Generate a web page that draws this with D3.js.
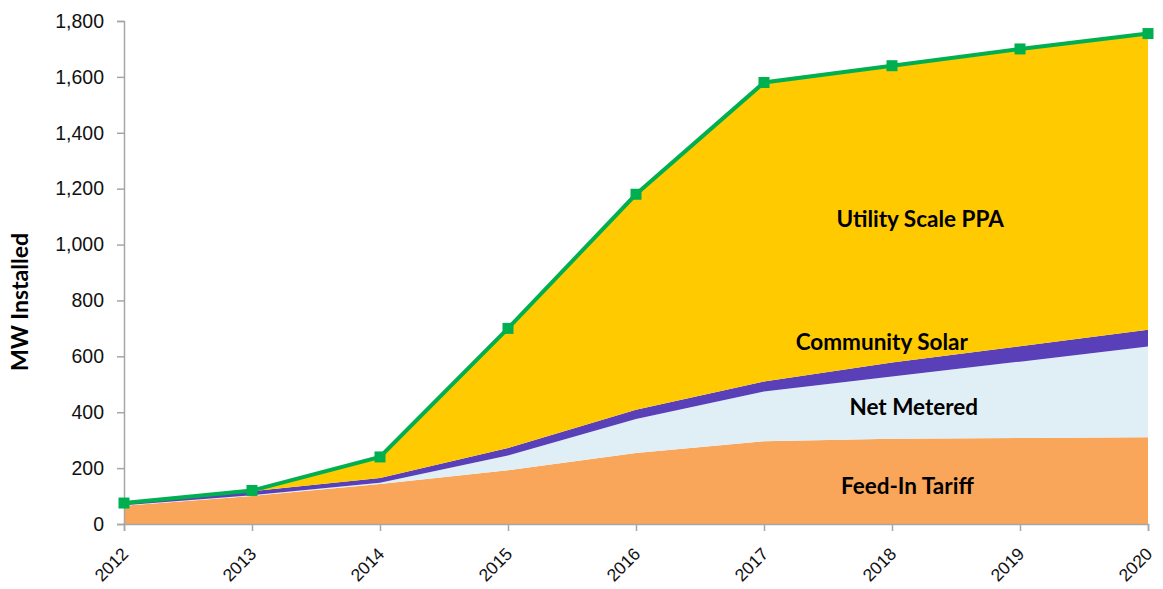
<!DOCTYPE html>
<html>
<head>
<meta charset="utf-8">
<script src="https://cdn.jsdelivr.net/npm/d3@7"></script>
<style>
  body { margin: 0; background: #fff; }
  svg { display: block; font-family: Lato, "Open Sans", sans-serif; }
</style>
</head>
<body>
<div id="chart"></div>
<script>
// Data (MW installed, cumulative)
const years = [2012, 2013, 2014, 2015, 2016, 2017, 2018, 2019, 2020];
const feedInTariff    = [65, 100, 143, 192, 254, 296, 305, 308, 310];
const netMetered      = [2, 3, 5, 53, 122, 178, 223, 273, 325];
const communitySolar  = [6, 14, 17, 27, 33, 36, 50, 55, 60];
const utilityScalePPA = [2, 3, 75, 428, 771, 1070, 1062, 1064, 1060];
const seriesNames = ["Feed-In Tariff", "Net Metered", "Community Solar", "Utility Scale PPA"];
const yTicks = [0, 200, 400, 600, 800, 1000, 1200, 1400, 1600, 1800];

const w = 1163, h = 589;
const margin = { top: 21, right: 15, bottom: 65, left: 124 };

// tabel til d3.stack
const rows = years.map((y, i) => ({
  year: y,
  "Feed-In Tariff": feedInTariff[i],
  "Net Metered": netMetered[i],
  "Community Solar": communitySolar[i],
  "Utility Scale PPA": utilityScalePPA[i]
}));
const totals = rows.map(r => ({ year: r.year, total: d3.sum(seriesNames, k => r[k]) }));

const colors = {
  "Feed-In Tariff": "#f9a65a",
  "Net Metered": "#e0eff5",
  "Community Solar": "#5a40b8",
  "Utility Scale PPA": "#ffca00"
};

const x = d3.scaleLinear()
  .domain([2012, 2020])
  .range([margin.left, w - margin.right]);

const y = d3.scaleLinear()
  .domain([0, 1800])
  .range([h - margin.bottom, margin.top]);

const svg = d3.select("#chart")
  .append("svg")
  .attr("width", w)
  .attr("height", h);

const stack = d3.stack().keys(seriesNames);
const layers = stack(rows);

const area = d3.area()
  .x(d => x(d.data.year))
  .y0(d => y(d[0]))
  .y1(d => y(d[1]));

svg.append("g")
  .selectAll("path")
  .data(layers)
  .enter()
  .append("path")
  .attr("d", area)
  .attr("fill", d => colors[d.key]);

// Akser
const yAxis = d3.axisLeft(y)
  .tickValues(yTicks)
  .tickSize(7)
  .tickPadding(13)
  .tickFormat(d3.format(","));

const gy = svg.append("g")
  .attr("transform", `translate(${margin.left},0)`)
  .call(yAxis);
gy.select(".domain").attr("stroke", "#a6a6a6").attr("stroke-width", 1.5);
gy.selectAll(".tick line").attr("stroke", "#a6a6a6").attr("stroke-width", 1.5);
gy.selectAll("text")
  .attr("font-size", 19.5)
  .attr("fill", "#111");

const xAxis = d3.axisBottom(x)
  .tickValues(years)
  .tickSize(7)
  .tickFormat(d3.format("d"));

const gx = svg.append("g")
  .attr("transform", `translate(0,${h - margin.bottom})`)
  .call(xAxis);
gx.select(".domain").attr("stroke", "#a6a6a6").attr("stroke-width", 1.5);
gx.selectAll(".tick line").attr("stroke", "#a6a6a6").attr("stroke-width", 1.5);
gx.selectAll("text")
  .attr("font-size", 17.5)
  .attr("fill", "#111")
  .attr("dy", null)
  .attr("y", 0)
  .attr("transform", "translate(5,31) rotate(-45)")
  .style("text-anchor", "end");

// Totallinje
const line = d3.line()
  .x(d => x(d.year))
  .y(d => y(d.total));

svg.append("path")
  .datum(totals)
  .attr("d", line)
  .attr("fill", "none")
  .attr("stroke", "#00b050")
  .attr("stroke-width", 4);

svg.selectAll("rect.marker")
  .data(totals)
  .enter()
  .append("rect")
  .attr("class", "marker")
  .attr("x", d => x(d.year) - 5.5)
  .attr("y", d => y(d.total) - 5.5)
  .attr("width", 11)
  .attr("height", 11)
  .attr("fill", "#00b050");

// Serienavne
const labels = [
  { name: "Utility Scale PPA", year: 2018.22, value: 1090 },
  { name: "Community Solar",   year: 2017.92, value: 650 },
  { name: "Net Metered",       year: 2018.17, value: 420 },
  { name: "Feed-In Tariff",    year: 2018.12, value: 135 }
];

svg.selectAll("text.series")
  .data(labels)
  .enter()
  .append("text")
  .attr("class", "series")
  .attr("x", d => x(d.year))
  .attr("y", d => y(d.value))
  .attr("dy", "0.35em")
  .attr("text-anchor", "middle")
  .attr("font-size", 22.5)
  .attr("font-weight", "bold")
  .attr("fill", "#000")
  .text(d => d.name);

// Aksetitel
svg.append("text")
  .attr("transform", "rotate(-90)")
  .attr("x", -302)
  .attr("y", 20)
  .attr("dy", "0.35em")
  .attr("text-anchor", "middle")
  .attr("font-size", 23)
  .attr("font-weight", "bold")
  .attr("fill", "#000")
  .text("MW Installed");
</script>
</body>
</html>
